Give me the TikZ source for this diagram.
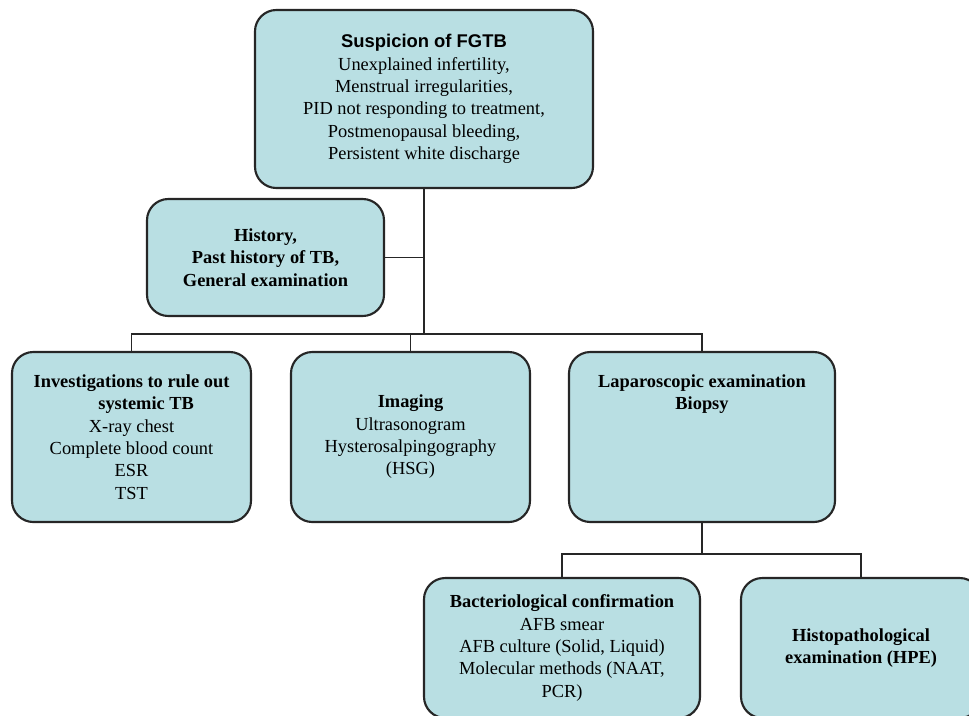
\documentclass[tikz,border=0pt]{standalone}
\usepackage{fontspec}
\setmainfont{Liberation Serif}
\setsansfont{Liberation Sans}
\usepackage{xcolor}
\usepackage{tikz}
\usetikzlibrary{shapes,arrows,positioning}

\definecolor{boxfill}{RGB}{185,223,227}
\definecolor{boxline}{RGB}{38,38,38}

\begin{document}
\begin{tikzpicture}[x=0.75pt, y=-0.75pt]
    % Define styles
    \tikzstyle{block} = [rectangle, draw=boxline, line width=1.6pt, fill=boxfill, align=center, rounded corners=16pt, inner sep=3pt, font=\fontsize{13.8}{16.75}\selectfont]
    \tikzstyle{boldblock} = [block, font=\fontsize{13.8}{16.75}\selectfont\bfseries]
    \tikzstyle{line} = [draw=boxline, line width=1.2pt]
    \tikzstyle{trunk} = [draw=boxline, line width=1.9pt]

    \useasboundingbox (0,0) rectangle (969,715);
    \clip (0,0) rectangle (969,715);

    % Place nodes
    \node [block, minimum width=253.5pt, minimum height=133.5pt] (suspect) at (424,99)
        {{\sffamily\bfseries Suspicion of FGTB}\\Unexplained infertility,\\Menstrual irregularities,\\PID not responding to treatment,\\Postmenopausal bleeding,\\Persistent white discharge};
    \node [boldblock, minimum width=177.75pt, minimum height=87.75pt] (history) at (265.5,257.5)
        {History,\\Past history of TB,\\General examination};
    \node [block, minimum width=179.25pt, minimum height=127.5pt] (systemic) at (131.5,437)
        {\textbf{Investigations to rule out}\\\hspace*{22pt}\textbf{systemic TB}\\X-ray chest\\Complete blood count\\ESR\\TST};
    \node [block, minimum width=179.25pt, minimum height=127.5pt] (imaging) at (410.5,437)
        {\textbf{Imaging}\\Ultrasonogram\\Hysterosalpingography\\(HSG)};
    \node [block, minimum width=199.5pt, minimum height=127.5pt] (laparo) at (702,437)
        {\textbf{Laparoscopic examination}\\\textbf{Biopsy}\\~\\~\\~\\~};
    \node [block, minimum width=207pt, minimum height=105pt] (bacterio) at (562,648)
        {\textbf{Bacteriological confirmation}\\AFB smear\\AFB culture (Solid, Liquid)\\Molecular methods (NAAT,\\PCR)};
    \node [boldblock, minimum width=180pt, minimum height=105pt] (hpe) at (861,648)
        {Histopathological\\examination (HPE)};

    % Junctions
    \coordinate (split) at (424,334);
    \coordinate (labsplit) at (702,554);

    % Draw edges
    \path [trunk] (suspect.south) -- (split);
    \path [line] (history.east) -- (history.east -| split);
    \path [line] (systemic.north) |- (split) -| (laparo.north);
    \path [line] (imaging.north) -- (imaging.north |- split);
    \path [trunk] (laparo.south) -- (labsplit);
    \path [line] (bacterio.north) |- (labsplit) -| (hpe.north);
\end{tikzpicture}
\end{document}
